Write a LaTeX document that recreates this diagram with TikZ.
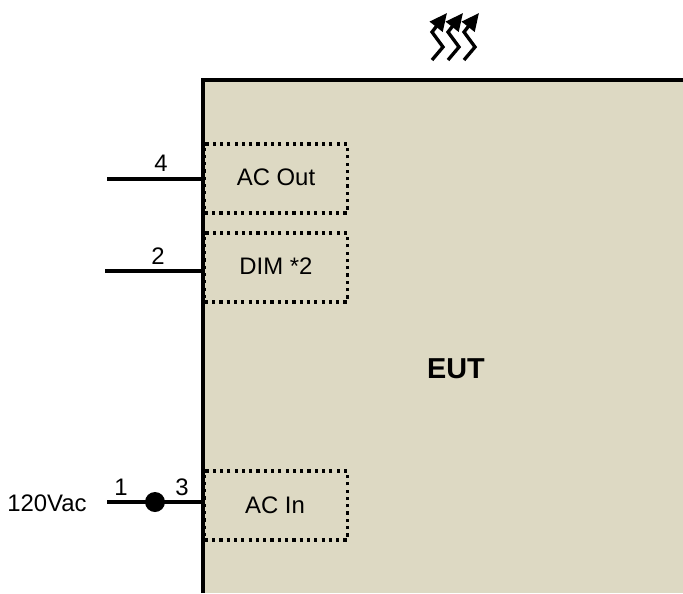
\documentclass[tikz,border=0pt]{standalone}
\usepackage{fontspec}
\setmainfont{Liberation Sans}
\definecolor{eutfill}{HTML}{DDD9C3}
\tikzset{
  port/.style={draw, line width=1.8pt, dash pattern=on 1.8pt off 2.35pt, minimum width=81pt, minimum height=39.3pt, inner sep=0pt},
  pin/.style={inner sep=0pt},
  wire/.style={line width=2.3pt},
  heat/.style={line width=1.9pt, -{Triangle[length=10pt,width=9pt]}},
}
\usetikzlibrary{arrows.meta}
\begin{document}
\begin{tikzpicture}[x=.02cm,y=-.02cm,font=\fontsize{13.6}{16}\selectfont]
  \useasboundingbox (0,0) rectangle (683,593);
\fill[eutfill] (203,80) rectangle (683,593);
\node[port] (acout) at (276,178.5){};
\node[port] (dim) at (276,267.5){};
\node[port] (acin) at (276,505.5){};
\node[pin] at (276,177){AC Out};
\node[pin] at (276,266){DIM *2};
\node[pin] at (275,505){AC In};
\draw[line width=2.3pt] (203,593)--(203,80)--(683,80);
\node[pin, font=\fontsize{16.4}{18}\selectfont\bfseries] (eut) at (456,369){EUT};
\coordinate (w4) at (107,179); \coordinate (e4) at (203,179);
\coordinate (w2) at (105,271); \coordinate (e2) at (203,271);
\coordinate (w1) at (107,502); \coordinate (e3) at (203,502);
\draw[wire] (w4)--(e4);
\draw[wire] (w2)--(e2);
\draw[wire] (w1)--(e3);
\fill (155,502) circle (10) node (tie){};
\node[pin] (p4) at (161,163){4};
\node[pin] (p2) at (158,256){2};
\node[pin] (p1) at (121,487){1};
\node[pin] (p3) at (182,487){3};
\node[pin] (vac) at (47,503){120Vac};
\foreach \dx in {0,16,32}{
  \draw[heat] (432+\dx,60)--(443+\dx,47)--(432+\dx,32)--(447+\dx,13);
}
\end{tikzpicture}
\end{document}
